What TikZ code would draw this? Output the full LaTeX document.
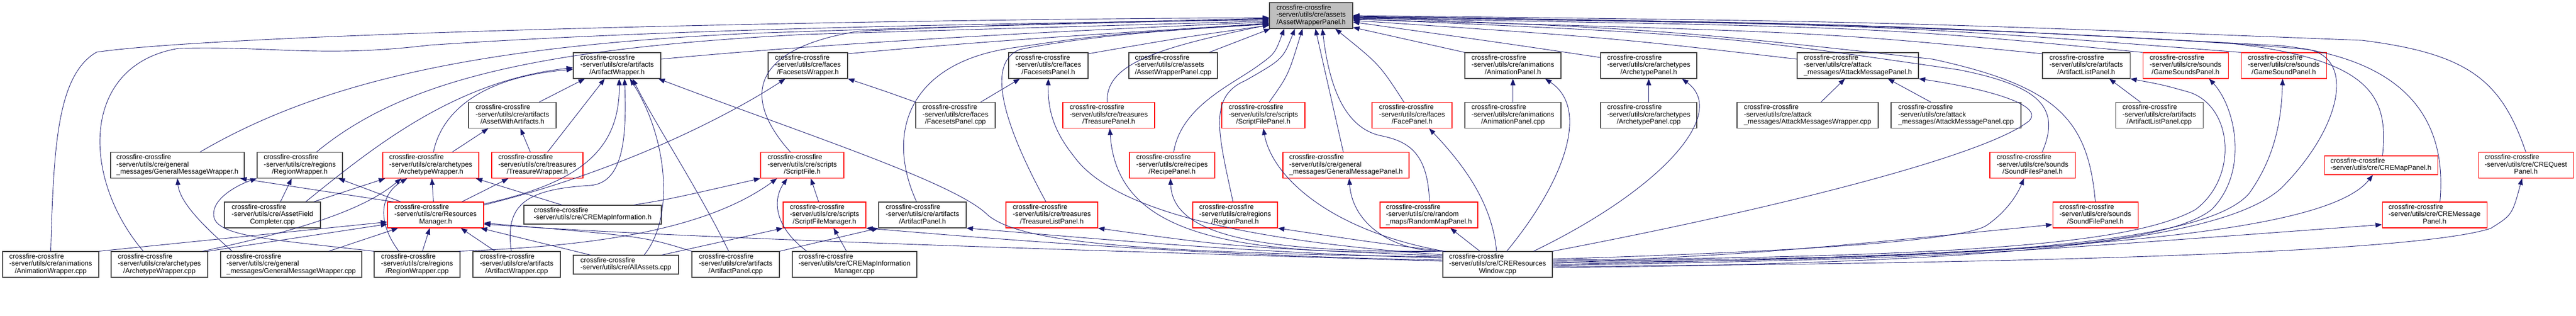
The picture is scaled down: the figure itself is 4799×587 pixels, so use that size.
\documentclass[tikz,border=0pt]{standalone}
\usepackage{fontspec}
\newfontfamily\dxfont{Liberation Sans}
\usetikzlibrary{arrows.meta}

\definecolor{depblue}{HTML}{191970}
\definecolor{boxgray}{HTML}{404040}
\definecolor{boxred}{HTML}{FF0000}
\definecolor{rootgray}{HTML}{BFBFBF}

% three-line and two-line file labels
\newcommand{\flbl}[2]{\begin{tabular}{@{}l@{}}crossfire-crossfire\\#1\\\multicolumn{1}{@{}c@{}}{#2}\end{tabular}}
\newcommand{\flbltwo}[1]{\begin{tabular}{@{}l@{}}crossfire-crossfire\\#1\end{tabular}}

\begin{document}
\begin{tikzpicture}[
    x=1pt, y=-1pt,
    filebox/.style={draw=boxgray, line width=1.1pt, inner sep=0pt, minimum height=48pt, font=\dxfont\fontsize{12.9}{13.3}\selectfont},
    incbox/.style={filebox, draw=boxred},
    rootbox/.style={filebox, fill=rootgray},
    dep/.style={draw=depblue, line width=0.9pt, -{Triangle[length=12pt,width=9pt]}}
  ]
  \useasboundingbox (0,0) rectangle (4799,587);

  % Root
  \node[rootbox, minimum width=155pt] (R) at (2442.5,29) {\flbl{-server/utils/cre/assets}{/AssetWrapperPanel.h}};

  % First row
  \node[filebox, minimum width=163pt] (awh) at (1149.5,122) {\flbl{-server/utils/cre/artifacts}{/ArtifactWrapper.h}};
  \node[filebox, minimum width=148pt] (fwh) at (1505,122) {\flbl{-server/utils/cre/faces}{/FacesetsWrapper.h}};
  \node[filebox, minimum width=148pt] (fph) at (1953,122) {\flbl{-server/utils/cre/faces}{/FacesetsPanel.h}};
  \node[filebox, minimum width=165pt] (awpc) at (2185.5,122) {\flbl{-server/utils/cre/assets}{/AssetWrapperPanel.cpp}};
  \node[filebox, minimum width=179pt] (anph) at (2818.5,122) {\flbl{-server/utils/cre/animations}{/AnimationPanel.h}};
  \node[filebox, minimum width=179pt] (arph) at (3071.5,122) {\flbl{-server/utils/cre/archetypes}{/ArchetypePanel.h}};
  \node[filebox, minimum width=226pt] (amph) at (3461,122) {\flbl{-server/utils/cre/attack}{\_messages/AttackMessagePanel.h}};
  \node[filebox, minimum width=163pt] (alph) at (3886.5,122) {\flbl{-server/utils/cre/artifacts}{/ArtifactListPanel.h}};
  \node[incbox, minimum width=159pt] (gsph) at (4071.5,122) {\flbl{-server/utils/cre/sounds}{/GameSoundsPanel.h}};
  \node[incbox, minimum width=159pt] (gs1ph) at (4254.5,122) {\flbl{-server/utils/cre/sounds}{/GameSoundPanel.h}};

  % Second row
  \node[filebox, minimum width=163pt] (awa) at (954.5,214.5) {\flbl{-server/utils/cre/artifacts}{/AssetWithArtifacts.h}};
  \node[filebox, minimum width=148pt] (fpc) at (1780,214.5) {\flbl{-server/utils/cre/faces}{/FacesetsPanel.cpp}};
  \node[incbox, minimum width=171pt] (tph) at (2065.5,214.5) {\flbl{-server/utils/cre/treasures}{/TreasurePanel.h}};
  \node[incbox, minimum width=155pt] (sfph) at (2353.5,214.5) {\flbl{-server/utils/cre/scripts}{/ScriptFilePanel.h}};
  \node[incbox, minimum width=149pt] (faceph) at (2630.5,214.5) {\flbl{-server/utils/cre/faces}{/FacePanel.h}};
  \node[filebox, minimum width=179pt] (anpc) at (2818.5,214.5) {\flbl{-server/utils/cre/animations}{/AnimationPanel.cpp}};
  \node[filebox, minimum width=179pt] (arpc) at (3071.5,214.5) {\flbl{-server/utils/cre/archetypes}{/ArchetypePanel.cpp}};
  \node[filebox, minimum width=263pt] (amwc) at (3367.5,214.5) {\flbl{-server/utils/cre/attack}{\_messages/AttackMessagesWrapper.cpp}};
  \node[filebox, minimum width=242pt] (ampc) at (3644,214.5) {\flbl{-server/utils/cre/attack}{\_messages/AttackMessagePanel.cpp}};
  \node[filebox, minimum width=163pt] (alpc) at (4022.5,214.5) {\flbl{-server/utils/cre/artifacts}{/ArtifactListPanel.cpp}};

  % Third row
  \node[filebox, minimum width=249pt] (gmwh) at (330.5,307.5) {\flbl{-server/utils/cre/general}{\_messages/GeneralMessageWrapper.h}};
  \node[filebox, minimum width=159pt] (rwh) at (558.5,307.5) {\flbl{-server/utils/cre/regions}{/RegionWrapper.h}};
  \node[incbox, minimum width=179pt] (archwh) at (802.5,307.5) {\flbl{-server/utils/cre/archetypes}{/ArchetypeWrapper.h}};
  \node[incbox, minimum width=170pt] (twh) at (1001,307.5) {\flbl{-server/utils/cre/treasures}{/TreasureWrapper.h}};
  \node[incbox, minimum width=155pt] (sfh) at (1494.5,307.5) {\flbl{-server/utils/cre/scripts}{/ScriptFile.h}};
  \node[incbox, minimum width=159pt] (rph) at (2183.5,307.5) {\flbl{-server/utils/cre/recipes}{/RecipePanel.h}};
  \node[incbox, minimum width=235pt] (gmph) at (2507.5,307.5) {\flbl{-server/utils/cre/general}{\_messages/GeneralMessagePanel.h}};
  \node[incbox, minimum width=159pt] (sfsph) at (3786.5,307.5) {\flbl{-server/utils/cre/sounds}{/SoundFilesPanel.h}};
  \node[incbox, minimum width=211pt, minimum height=35pt] (cmph) at (4435.5,307.5) {\flbltwo{-server/utils/cre/CREMapPanel.h}};
  \node[incbox, minimum width=177pt] (cqph) at (4705.5,307.5) {\flbl{-server/utils/cre/CREQuest}{Panel.h}};

  % Fourth row
  \node[filebox, minimum width=179pt] (afcc) at (507.5,400) {\flbl{-server/utils/cre/AssetField}{Completer.cpp}};
  \node[incbox, minimum width=179pt] (rmh) at (811.5,400) {\flbl{-server/utils/cre/Resources}{Manager.h}};
  \node[filebox, minimum width=256pt, minimum height=35pt] (cmih) at (1104,399.5) {\flbltwo{-server/utils/cre/CREMapInformation.h}};
  \node[incbox, minimum width=154pt] (sfmh) at (1536,400) {\flbl{-server/utils/cre/scripts}{/ScriptFileManager.h}};
  \node[filebox, minimum width=163pt] (aph) at (1718.5,400) {\flbl{-server/utils/cre/artifacts}{/ArtifactPanel.h}};
  \node[incbox, minimum width=171pt] (tlph) at (1959.5,400) {\flbl{-server/utils/cre/treasures}{/TreasureListPanel.h}};
  \node[incbox, minimum width=158pt] (rgph) at (2301,400) {\flbl{-server/utils/cre/regions}{/RegionPanel.h}};
  \node[incbox, minimum width=182pt] (rmph) at (2662,400) {\flbl{-server/utils/cre/random}{\_maps/RandomMapPanel.h}};
  \node[incbox, minimum width=159pt] (sfileph) at (3903.5,400) {\flbl{-server/utils/cre/sounds}{/SoundFilePanel.h}};
  \node[incbox, minimum width=195pt] (cmsgph) at (4535.5,400) {\flbl{-server/utils/cre/CREMessage}{Panel.h}};

  % Fifth row
  \node[filebox, minimum width=179pt] (anwc) at (94.5,492) {\flbl{-server/utils/cre/animations}{/AnimationWrapper.cpp}};
  \node[filebox, minimum width=180pt] (arwc) at (297,492) {\flbl{-server/utils/cre/archetypes}{/ArchetypeWrapper.cpp}};
  \node[filebox, minimum width=263pt] (gmwc) at (542.5,492) {\flbl{-server/utils/cre/general}{\_messages/GeneralMessageWrapper.cpp}};
  \node[filebox, minimum width=160pt] (rwc) at (777,492) {\flbl{-server/utils/cre/regions}{/RegionWrapper.cpp}};
  \node[filebox, minimum width=163pt] (awc) at (962.5,492) {\flbl{-server/utils/cre/artifacts}{/ArtifactWrapper.cpp}};
  \node[filebox, minimum width=196pt, minimum height=35pt] (aac) at (1166,492.5) {\flbltwo{-server/utils/cre/AllAssets.cpp}};
  \node[filebox, minimum width=163pt] (apc) at (1370.5,492) {\flbl{-server/utils/cre/artifacts}{/ArtifactPanel.cpp}};
  \node[filebox, minimum width=232pt] (cmimc) at (1592,492) {\flbl{-server/utils/cre/CREMapInformation}{Manager.cpp}};
  \node[filebox, minimum width=204pt] (crwc) at (2790,492) {\flbl{-server/utils/cre/CREResources}{Window.cpp}};

  % Includes of the root, from the left
  \draw[dep] (anwc.north) .. controls (100,280) and (105,140) .. (180,97) .. controls (420,62) and (1600,36) .. ([yshift=-4pt]R.west);
  \draw[dep] ([xshift=-30pt]arwc.north) .. controls (150,330) and (150,120) .. (333,90) .. controls (500,85) and (600,108) .. (800,84) .. controls (1300,50) and (2000,42) .. ([yshift=-8pt]R.west);
  \draw[dep] ([xshift=42pt]gmwh.north) .. controls (600,150) and (900,85) .. (1400,62) .. controls (1800,48) and (2100,42) .. ([yshift=-6pt]R.west);
  \draw[dep] ([xshift=31pt]rwh.north) .. controls (750,150) and (1000,90) .. (1500,64) .. controls (1900,52) and (2200,44) .. ([yshift=-10pt]R.west);
  \draw[dep] ([yshift=12pt]awh.east) .. controls (1600,75) and (2100,52) .. ([yshift=-12pt]R.west);
  \draw[dep] ([yshift=22pt]fwh.east) .. controls (1900,70) and (2200,55) .. ([yshift=-14pt]R.west);
  \draw[dep] ([yshift=22pt]fph.east) .. controls (2200,70) .. ([yshift=-18pt]R.west);
  \draw[dep] ([xshift=-3pt]tph.north) .. controls (2060,120) and (2150,90) .. ([yshift=-17pt]R.west);
  \draw[dep] ([xshift=-11pt]tlph.north) .. controls (1880,250) and (1830,120) .. (1900,92) .. controls (2050,62) and (2250,52) .. ([yshift=-16pt]R.west);
  \draw[dep] ([xshift=-11pt]aph.north) .. controls (1650,250) and (1690,120) .. (1880,90) .. controls (2050,65) .. ([yshift=-15pt]R.west);
  \draw[dep] ([xshift=-22pt]sfh.north) .. controls (1380,180) and (1400,90) .. (1600,58) .. controls (1900,45) .. ([yshift=-5pt]R.west);

  % Includes of the root, from below
  \draw[dep] ([xshift=67pt]awpc.north) -- ([xshift=2pt]R.south west);
  \draw[dep] ([xshift=3pt]rph.north) .. controls (2200,200) and (2290,160) .. (2340,125) .. controls (2375,100) .. ([xshift=28pt]R.south west);
  \draw[dep] ([xshift=-4pt]rgph.north) .. controls (2270,250) and (2250,180) .. (2320,150) .. controls (2390,110) .. ([xshift=48pt]R.south west);
  \draw[dep] ([xshift=11pt]sfph.north) .. controls (2400,140) .. ([xshift=62pt]R.south west);
  \draw[dep] ([xshift=-5pt]gmph.north) -- ([xshift=8pt]R.south);
  \draw[dep] ([xshift=1pt]rmph.north) .. controls (2660,280) and (2620,262) .. (2570,252) .. controls (2500,235) and (2475,150) .. ([xshift=21pt]R.south);
  \draw[dep] ([xshift=-15pt]faceph.north) .. controls (2570,120) .. ([xshift=45pt]R.south);

  % Includes of the root, from the right
  \draw[dep] (anph.north west) -- ([yshift=-22pt]R.east);
  \draw[dep] ([yshift=15pt]arph.west) .. controls (2800,80) .. ([yshift=-12pt]R.east);
  \draw[dep] ([yshift=12pt]amph.west) .. controls (3000,70) .. ([yshift=-9pt]R.east);
  \draw[dep] ([yshift=22pt]alph.west) .. controls (3400,60) .. ([yshift=-7pt]R.east);
  \draw[dep] (gsph.north west) .. controls (3500,50) .. ([yshift=-5pt]R.east);
  \draw[dep] (gs1ph.north west) .. controls (3500,45) .. ([yshift=-4pt]R.east);
  \draw[dep] ([xshift=18pt]sfsph.north) .. controls (3840,200) and (3800,160) .. (3650,130) .. controls (3200,65) .. ([yshift=-6pt]R.east);
  \draw[dep] (sfileph.north) .. controls (3890,220) and (3830,160) .. (3600,110) .. controls (3100,55) .. ([yshift=-3pt]R.east);
  \draw[dep] ([xshift=3pt]cmph.north) .. controls (4450,180) and (4420,110) .. (4150,80) .. controls (3500,45) .. ([yshift=-2pt]R.east);
  \draw[dep] ([xshift=10pt]cmsgph.north) .. controls (4560,220) and (4480,110) .. (4250,85) .. controls (3500,45) .. ([yshift=-1pt]R.east);
  \draw[dep] (cqph.north) .. controls (4660,150) and (4600,100) .. (4400,75) .. controls (3500,40) .. (R.east);

  % Right part, short includes
  \draw[dep] (anpc) -- (anph);
  \draw[dep] (arpc) -- (arph);
  \draw[dep] ([xshift=25pt]amwc.north) -- ([xshift=-24pt]amph.south);
  \draw[dep] ([xshift=-47pt]ampc.north) -- ([xshift=56pt]amph.south);
  \draw[dep] ([xshift=-35pt]alpc.north) -- ([xshift=43pt]alph.south);

  % Faces and artifacts
  \draw[dep] ([xshift=47pt]fpc.north) -- ([xshift=-53pt]fph.south);
  \draw[dep] (fpc.north west) .. controls (1650,170) .. (fwh.south east);
  \draw[dep] ([xshift=50pt]awa.north) -- ([xshift=-60pt]awh.south);
  \draw[dep] ([xshift=-13pt]twh.north) -- ([xshift=15pt]awa.south);
  \draw[dep] ([xshift=19pt]twh.north) -- ([xshift=-23pt]awh.south);
  \draw[dep] ([xshift=40pt]archwh.north) -- ([xshift=-45pt]awa.south);
  \draw[dep] ([xshift=5pt]archwh.north) .. controls (820,220) and (880,145) .. ([yshift=-7pt]awh.west);
  \draw[dep] ([xshift=62pt]afcc.north) .. controls (700,270) and (850,150) .. ([yshift=-4pt]awh.west);
  \draw[dep] ([xshift=15pt]afcc.north) -- ([xshift=-15pt]rwh.south);
  \draw[dep] ([xshift=77pt]afcc.north) -- ([xshift=-85pt]archwh.south);

  % Resources manager
  \draw[dep] ([xshift=11pt]rmh.north west) -- ([xshift=-8pt]gmwh.south east);
  \draw[dep] ([xshift=25pt]rmh.north west) -- ([xshift=-8pt]rwh.south east);
  \draw[dep] ([xshift=-4pt]rmh.north) -- ([xshift=2pt]archwh.south);
  \draw[dep] ([xshift=-41pt]rmh.north east) -- ([xshift=-54pt]twh.south);
  \draw[dep] ([yshift=-4pt]rmh.north east) .. controls (1080,340) and (1155,280) .. ([xshift=4pt]awh.south);
  \draw[dep] ([yshift=-6pt]rmh.north east) .. controls (1150,320) and (1350,220) .. ([xshift=-42pt]fwh.south);
  \draw[dep] ([xshift=-57pt]cmih.north) -- ([xshift=-6pt]archwh.south east);
  \draw[dep] ([xshift=-52pt]cmih.north east) .. controls (1250,370) .. (sfh.south west);

  % Wrapper sources
  \draw[dep] (anwc.north east) -- ([yshift=-13pt]rmh.west);
  \draw[dep] (arwc.north east) -- ([yshift=-17pt]rmh.west);
  \draw[dep] ([xshift=-10pt]arwc.north east) .. controls (600,420) and (690,380) .. ([xshift=-55pt]archwh.south);
  \draw[dep] ([xshift=-110pt]gmwc.north) .. controls (390,430) and (335,380) .. (gmwh.south);
  \draw[dep] ([xshift=70pt]gmwc.north) -- ([xshift=-70pt]rmh.south);
  \draw[dep] (rwc.north west) .. controls (500,445) and (400,440) .. (398,400) .. controls (396,370) and (440,345) .. (rwh.south west);
  \draw[dep] ([xshift=10pt]rwc.north) -- ([xshift=-11pt]rmh.south);
  \draw[dep] ([xshift=-34pt]rwc.north) .. controls (700,410) and (710,360) .. ([xshift=-44pt]archwh.south);
  \draw[dep] ([xshift=-3pt]rwc.north east) .. controls (1050,460) and (1300,440) .. ([xshift=-47pt]sfh.south);
  \draw[dep] ([xshift=-40pt]awc.north) -- ([xshift=47pt]rmh.south);
  \draw[dep] ([xshift=-10pt]awc.north) .. controls (940,380) and (980,352) .. (1100,345) .. controls (1160,340) and (1168,260) .. ([xshift=14pt]awh.south);
  \draw[dep] ([xshift=-66pt]aac.north) -- ([xshift=-6pt]rmh.south east);
  \draw[dep] ([xshift=34pt]aac.north) .. controls (1260,400) and (1240,250) .. ([xshift=24pt]awh.south);
  \draw[dep] ([xshift=67pt]aac.north) -- (sfmh.south west);
  \draw[dep] ([xshift=-13pt]apc.north) .. controls (1300,350) and (1220,230) .. ([xshift=29pt]awh.south);
  \draw[dep] (apc.north east) -- (aph.south west);
  \draw[dep] (apc.north west) .. controls (1200,440) .. ([yshift=-15pt]rmh.east);

  % Scripts
  \draw[dep] ([xshift=-89pt]cmimc.north) .. controls (1440,420) and (1440,370) .. ([xshift=-28pt]sfh.south);
  \draw[dep] ([xshift=-15pt]cmimc.north) -- ([xshift=17pt]sfmh.south);
  \draw[dep] ([xshift=-11pt]sfmh.north) -- ([xshift=16pt]sfh.south);

  % Resources window, to the left
  \draw[dep] ([yshift=14pt]crwc.west) .. controls (2100,470) and (1900,450) .. (1840,400) .. controls (1780,340) and (1500,250) .. ([xshift=-5pt]awh.south east);
  \draw[dep] ([yshift=12pt]crwc.west) .. controls (2300,470) and (2000,440) .. (aph.south east);
  \draw[dep] ([yshift=8pt]crwc.west) .. controls (2200,475) and (1800,440) .. (sfmh.south east);
  \draw[dep] ([yshift=6pt]crwc.west) .. controls (2000,465) and (1300,445) .. ([yshift=-17pt]rmh.east);
  \draw[dep] ([yshift=16pt]crwc.west) .. controls (2300,460) .. (tlph.south east);
  \draw[dep] (crwc.north west) .. controls (2250,480) and (2080,420) .. ([xshift=2pt]tph.south);
  \draw[dep] (crwc.north west) .. controls (2350,470) and (2185,440) .. ([xshift=-3pt]rph.south);
  \draw[dep] (crwc.north west) .. controls (2550,450) .. (rgph.south east);
  \draw[dep] ([xshift=6pt]crwc.north west) .. controls (2600,470) and (2520,420) .. ([xshift=6pt]gmph.south);
  \draw[dep] ([xshift=3pt]crwc.north west) .. controls (2480,430) and (2370,330) .. (sfph.south);
  \draw[dep] ([yshift=18pt]crwc.west) .. controls (2200,440) and (2050,360) .. (2000,290) .. controls (1960,240) and (1952,200) .. (fph.south);

  % Resources window, upwards
  \draw[dep] ([xshift=-2pt]crwc.north) .. controls (2780,380) and (2730,310) .. ([xshift=32pt]faceph.south);
  \draw[dep] ([xshift=-33pt]crwc.north) -- ([xshift=40pt]rmph.south);
  \draw[dep] ([xshift=17pt]crwc.north) .. controls (2920,330) and (2960,200) .. ([xshift=60pt]anph.south);
  \draw[dep] ([xshift=67pt]crwc.north) .. controls (3100,350) and (3220,210) .. ([xshift=62pt]arph.south);

  % Resources window, to the right
  \draw[dep] (crwc.north east) .. controls (3300,390) and (3700,290) .. (3780,225) .. controls (3810,195) and (3700,165) .. (amph.south east);
  \draw[dep] ([yshift=8pt]crwc.east) .. controls (3700,478) and (3980,450) .. (4090,390) .. controls (4170,330) and (4160,200) .. (4080,172) .. controls (4030,158) .. (alph.south east);
  \draw[dep] ([yshift=6pt]crwc.east) .. controls (3700,480) and (4030,460) .. (4120,390) .. controls (4190,320) and (4165,200) .. ([xshift=44pt]gsph.south);
  \draw[dep] ([yshift=4pt]crwc.east) .. controls (3800,485) and (4120,440) .. (4190,360) .. controls (4240,290) and (4250,220) .. ([xshift=-2pt]gs1ph.south);
  \draw[dep] ([yshift=10pt]crwc.east) .. controls (3300,470) and (3650,450) .. (3700,420) .. controls (3730,400) and (3755,370) .. ([xshift=-16pt]sfsph.south);
  \draw[dep] ([yshift=2pt]crwc.east) .. controls (3300,470) .. ([yshift=-18pt]sfileph.west);
  \draw[dep] (crwc.east) .. controls (3800,475) and (4330,440) .. ([xshift=-15pt]cmph.south);
  \draw[dep] ([yshift=-2pt]crwc.east) .. controls (3600,480) .. ([yshift=-18pt]cmsgph.west);
  \draw[dep] ([yshift=-4pt]crwc.east) .. controls (3800,490) and (4500,470) .. (4640,425) .. controls (4680,400) .. ([xshift=-7pt]cqph.south);
  \draw[dep] ([yshift=-6pt]crwc.east) .. controls (3800,490) and (4150,440) .. (4250,350) .. controls (4360,240) and (4390,110) .. (4300,92) .. controls (3800,50) and (3000,35) .. ([yshift=-3pt]R.east);

\end{tikzpicture}
\end{document}
